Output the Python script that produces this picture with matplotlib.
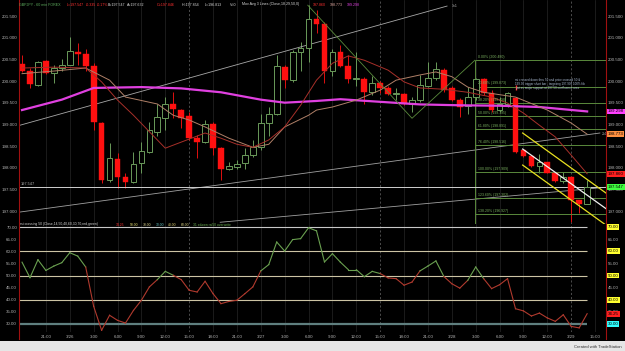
import matplotlib
matplotlib.use('Agg')
import matplotlib.pyplot as plt
from matplotlib.patches import Rectangle
from matplotlib.lines import Line2D

plt.rcParams['font.family'] = ['Liberation Sans', 'DejaVu Sans']

# GBPJPY 60 min bars
opens = [200.385, 200.238, 199.91, 200.46, 200.18, 200.29, 200.38, 200.68, 200.62, 200.35,
         199.04, 197.72, 198.19, 197.79, 197.66, 198.10, 198.37, 198.83, 199.14, 199.48,
         199.33, 199.19, 198.68, 198.60, 199.01, 198.45, 197.96, 198.02, 198.10, 198.29,
         198.48, 199.04, 199.25, 200.33, 200.02, 200.66, 200.77, 201.42, 201.31, 200.22,
         200.68, 200.35, 200.04, 200.04, 199.75, 199.95, 199.83, 199.70, 199.70, 199.47,
         199.56, 199.88, 200.08, 200.25, 199.83, 199.56, 199.42, 199.64, 200.04, 199.72,
         199.33, 199.48, 199.60, 198.40, 198.27, 198.05, 198.12, 197.87, 197.69, 197.79,
         197.25, 197.16]
highs = [200.60, 200.29, 200.46, 200.48, 200.37, 200.50, 201.02, 200.88, 200.73, 200.42,
         199.05, 198.56, 198.35, 197.88, 198.37, 198.60, 199.06, 199.48, 199.64, 199.75,
         199.35, 199.29, 198.75, 199.10, 199.05, 198.48, 198.14, 198.18, 198.45, 198.64,
         199.25, 199.41, 200.60, 200.37, 200.72, 200.91, 201.75, 201.64, 201.37, 200.75,
         200.83, 200.60, 200.68, 200.10, 200.12, 200.01, 199.88, 199.85, 199.73, 199.64,
         200.14, 200.45, 200.45, 200.29, 199.88, 199.60, 199.87, 200.06, 200.06, 199.79,
         199.64, 199.75, 199.62, 198.42, 198.30, 198.32, 198.14, 197.88, 197.91, 197.81,
         197.26, 197.72]
lows = [200.21, 199.85, 199.88, 200.16, 199.96, 200.22, 200.37, 200.37, 200.22, 198.87,
        197.64, 197.68, 197.54, 197.52, 197.64, 197.87, 198.33, 198.72, 198.87, 199.14,
        198.91, 198.65, 198.22, 198.58, 198.29, 197.72, 197.95, 197.98, 197.98, 198.25,
        198.41, 198.72, 199.22, 199.85, 199.98, 200.22, 200.45, 201.10, 199.95, 200.12,
        200.33, 199.95, 199.88, 199.48, 199.68, 199.73, 199.68, 199.56, 199.45, 199.29,
        199.52, 199.87, 200.02, 199.75, 199.55, 199.18, 199.25, 199.56, 199.68, 199.29,
        199.29, 199.41, 198.35, 198.25, 198.02, 197.87, 197.87, 197.68, 197.65, 196.75,
        196.95, 197.16]
closes = [200.238, 199.93, 200.43, 200.18, 200.31, 200.38, 200.69, 200.62, 200.35, 199.06,
          197.72, 198.22, 197.79, 197.66, 198.08, 198.39, 198.87, 199.16, 199.48, 199.35,
          199.14, 198.68, 198.60, 199.01, 198.45, 197.96, 198.05, 198.08, 198.29, 198.48,
          199.02, 199.25, 200.35, 200.02, 200.68, 200.77, 201.42, 201.31, 200.22, 200.68,
          200.35, 200.04, 200.06, 199.75, 199.96, 199.83, 199.70, 199.73, 199.47, 199.56,
          199.91, 200.08, 200.27, 199.79, 199.56, 199.41, 199.64, 200.04, 199.72, 199.33,
          199.48, 199.72, 198.37, 198.27, 198.05, 198.12, 197.88, 197.69, 197.79, 197.25,
          197.16, 197.547]

# moving averages (read at selected bars)
ma_fast_bars = [0, 4, 8, 10, 12, 14, 17, 18, 20, 23, 25, 27, 29, 31, 33, 35, 37, 39, 41, 43,
                46, 48, 50, 53, 56, 59, 61, 63, 65, 67, 69, 71]
ma_fast_vals = [200.30, 200.32, 200.30, 199.98, 199.56, 199.21, 198.64, 198.45, 198.59, 198.80,
                198.68, 198.54, 198.47, 198.64, 198.94, 199.44, 200.02, 200.41, 200.58, 200.48,
                200.25, 199.98, 199.84, 199.81, 199.74, 199.63, 199.49, 199.26, 198.98, 198.71,
                198.29, 197.86]
ma_mid_bars = [0, 4, 8, 11, 13, 17, 19, 21, 23, 26, 29, 31, 33, 36, 37, 39, 42, 45, 47, 50,
               52, 54, 56, 58, 62, 66, 69, 71]
ma_mid_vals = [200.17, 200.23, 200.30, 200.02, 199.63, 199.47, 199.21, 199.10, 198.94, 198.68,
               198.47, 198.54, 198.94, 199.21, 199.33, 199.40, 199.56, 199.79, 200.02, 200.14,
               200.21, 200.10, 199.86, 199.74, 199.63, 199.33, 199.03, 198.773]
ma_slow_bars = [0, 5, 9, 15, 20, 25, 30, 33, 37, 40, 45, 50, 55, 60, 65, 71]
ma_slow_vals = [199.33, 199.57, 199.84, 199.86, 199.83, 199.74, 199.57, 199.50, 199.54, 199.58,
                199.52, 199.46, 199.44, 199.43, 199.40, 199.298]

rsi = [55.5, 49.1, 56.5, 52.1, 53.9, 55.3, 59.4, 58.0, 53.5, 37.3,
       27.4, 33.6, 31.5, 30.4, 35.6, 39.8, 45.3, 48.3, 51.7, 50.1,
       48.3, 43.9, 43.2, 47.6, 42.5, 38.4, 39.3, 39.8, 42.5, 45.3,
       51.9, 54.5, 63.8, 60.1, 64.8, 65.2, 69.7, 68.4, 55.6, 59.0,
       55.5, 52.4, 52.4, 49.5, 51.7, 50.8, 49.0, 48.7, 46.0, 47.3,
       51.9, 53.9, 56.0, 49.6, 46.6, 44.8, 48.0, 53.5, 48.7, 44.6,
       46.2, 48.7, 36.3, 35.4, 33.3, 34.5, 32.5, 31.1, 33.8, 29.0,
       28.4, 34.25]

time_bars = list(range(3, 73, 3))
time_labels = ['21:00', '3/26', '3:00', '6:00', '9:00', '12:00', '15:00', '18:00', '21:00',
               '3/27', '3:00', '6:00', '9:00', '12:00', '15:00', '18:00', '21:00', '3/28',
               '3:00', '6:00', '9:00', '12:00', '3/29', '15:00']
session_bars = [21, 45, 69]

# drawings
line_1x1_x, line_1x1_y = [-0.25, 53.4], [198.98, 201.73]
line_2x1_x, line_2x1_y = [-0.5, 72.6], [196.97, 198.80]
line_low_x, line_low_y = [24.9, 73.5], [196.74, 197.55]
zigzag_x, zigzag_y = [35.9, 49.0, 56.9], [201.75, 199.14, 200.48]
chan_x = [62.9, 73.4]
chan_upper = [198.80, 197.41]
chan_mid = [198.43, 197.05]
chan_lower = [198.06, 196.67]
fib_start, fib_high, fib_low = 56.9, 200.480, 197.909
fib_pcts = [0.0, 23.6, 38.2, 50.0, 61.8, 76.4, 100.0, 123.6, 138.2]
last_price = 197.547
note_lines = ['rsi crossed down thru 50 and price crossed 50 &',
              '199.30 trigger short bar , targeting 197.909 100% fib',
              'just as major support at 197.50 confluence area']

W, H = 625, 351
GREEN_C = '#6a9a5a'
RED_C = '#ff1010'
GRAY_T = '#b4b4b4'
FS = 3.2
HFS = 2.6


def fx(px):
    return px / W


def fy(py):
    return 1 - py / H


fig = plt.figure(figsize=(6.25, 3.51), dpi=100, facecolor='black')
ax = fig.add_axes([fx(19), fy(224), 587 / W, 224 / H])
ax2 = fig.add_axes([fx(19), fy(332), 587 / W, 108 / H])
XMIN, XMAX = -0.38, 73.37
for a in (ax, ax2):
    a.set_facecolor('black')
    a.set_xlim(XMIN, XMAX)
    for s in a.spines.values():
        s.set_visible(False)
    for b in time_bars:
        if b in session_bars:
            a.axvline(b, color='#6a6a6a', lw=0.5, ls=(0, (3, 3)))
        else:
            a.axvline(b, color='#262626', lw=0.5)
ax.set_ylim(196.70, 201.87)
ax2.set_ylim(26.70, 71.24)

# candles
x = list(range(len(closes)))
up = [i for i in x if closes[i] >= opens[i]]
dn = [i for i in x if closes[i] < opens[i]]
ax.vlines(dn, [lows[i] for i in dn], [highs[i] for i in dn], color='#e01010', lw=0.7)
ax.bar(dn, [max(opens[i] - closes[i], 0.015) for i in dn], bottom=[closes[i] for i in dn],
       width=0.72, color=RED_C, edgecolor=RED_C, lw=0.3, zorder=3)
ax.vlines(up, [lows[i] for i in up], [opens[i] for i in up], color=GREEN_C, lw=0.7)
ax.vlines(up, [closes[i] for i in up], [highs[i] for i in up], color=GREEN_C, lw=0.7)
ax.bar(up, [max(closes[i] - opens[i], 0.015) for i in up], bottom=[opens[i] for i in up],
       width=0.72, facecolor='black', edgecolor=GREEN_C, lw=0.7, zorder=3)

# moving averages
ax.plot(ma_slow_bars, ma_slow_vals, color='#e040e0', lw=1.6, zorder=4)
ax.plot(ma_mid_bars, ma_mid_vals, color='#b08068', lw=0.7, zorder=4)
ax.plot(ma_fast_bars, ma_fast_vals, color='#a8302a', lw=0.7, zorder=4)

# trend lines
ax.plot(line_1x1_x, line_1x1_y, color='#a8a8a8', lw=0.6)
ax.plot(line_2x1_x, line_2x1_y, color='#a0a0a0', lw=0.6)
ax.plot(line_low_x, line_low_y, color='#a0a0a0', lw=0.6)
ax.text(54.0, 201.72, '1x1', color=GRAY_T, fontsize=HFS, va='center')
ax.text(72.8, 198.78, '2x1', color=GRAY_T, fontsize=HFS, va='center')
ax.plot(zigzag_x, zigzag_y, color='#5a8a3c', lw=0.6, zorder=5)

# fibonacci
fib_prices = [fib_high - p / 100 * (fib_high - fib_low) for p in fib_pcts]
ax.hlines(fib_prices, fib_start, XMAX, color='#5a8a3c', lw=0.7, zorder=2)
ax.vlines(fib_start, 196.70, fib_high, color='#5a8a3c', lw=0.7, zorder=2)
for p, v in zip(fib_pcts, fib_prices):
    ax.text(fib_start + 0.35, v + 0.025, f'{p:.2f}% ({v:.3f})', color='#7ab060',
            fontsize=2.5, va='bottom', zorder=6)

# channel
ax.plot(chan_x, chan_upper, color='#e8e020', lw=0.9, zorder=5)
ax.plot(chan_x, chan_lower, color='#e8e020', lw=0.9, zorder=5)
ax.plot(chan_x, chan_mid, color='#f0f0f0', lw=0.9, zorder=5)

# last price line
ax.axhline(last_price, color='#d0d0d0', lw=0.7, zorder=2)
ax.text(-0.2, last_price + 0.03, f'{last_price:.3f}', color=GRAY_T, fontsize=2.8, va='bottom')
ax.vlines(62, 199.80, 199.90, color='#ff3030', lw=1.0, zorder=6)
for k, t in enumerate(note_lines):
    ax.text(61.9, 200.06 - k * 0.085, t, color='#a8b8d0', fontsize=2.2, va='top', zorder=6)

# price axis labels
ax.set_xticks([])
price_ticks = [197.0, 197.5, 198.0, 198.5, 199.0, 199.5, 200.0, 200.5, 201.0, 201.5]
ax.set_yticks(price_ticks)
ax.set_yticklabels([f'{v:.3f}' for v in price_ticks])
ax.tick_params(axis='y', labelsize=FS, colors=GRAY_T, length=0, pad=1.4,
               labelleft=True, labelright=True)
ytr = ax.get_yaxis_transform()
for v, c in [(199.298, '#ff40ff'), (198.773, '#ff9040'), (197.860, '#ff2020'), (197.547, '#40ff40')]:
    ax.text(1.003, v, f'{v:.3f}', transform=ytr, fontsize=FS, color='black', va='center',
            ha='left', bbox=dict(boxstyle='square,pad=0.2', fc=c, ec='none'), zorder=10)

# rsi panel
for lvl, c, w in [(70, '#c8c8c8', 0.8), (60, '#ccc4a4', 0.8), (50, '#ccc4a4', 0.8),
                  (40, '#ccc4a4', 0.8), (30, '#5f7f7f', 1.6)]:
    ax2.hlines(lvl, XMIN, len(rsi) - 1, color=c, lw=w)
for i in range(len(rsi) - 1):
    c = '#6aa050' if (rsi[i] + rsi[i + 1]) / 2 >= 50 else '#b03a2e'
    ax2.plot([i, i + 1], [rsi[i], rsi[i + 1]], color=c, lw=0.8)
rsi_ticks = [30, 35, 40, 45, 50, 55, 60, 65, 70]
ax2.set_yticks(rsi_ticks)
ax2.set_yticklabels([f'{v:.2f}' for v in rsi_ticks])
ax2.tick_params(axis='y', labelsize=FS, colors=GRAY_T, length=0, pad=1.4,
                labelleft=True, labelright=True)
ax2.set_xticks(time_bars)
ax2.set_xticklabels(time_labels)
ax2.tick_params(axis='x', labelsize=FS, colors=GRAY_T, length=0, pad=2.0)
ytr2 = ax2.get_yaxis_transform()
for v, c in [(70, '#ffff30'), (60, '#ffff30'), (50, '#ffff30'), (40, '#ffff30'),
             (rsi[-1], '#ff2020'), (30, '#30ffff')]:
    ax2.text(1.003, v, f'{v:.2f}', transform=ytr2, fontsize=FS, color='black', va='center',
             ha='left', bbox=dict(boxstyle='square,pad=0.2', fc=c, ec='none'), zorder=10)

# header texts
hdr = [(19, 'GBPJPY - 60 min FOREX', '#5faf5f'), (67, 'L=197.547', '#ff3030'),
       (86, '-0.335', '#ff3030'), (97, '-0.17%', '#ff3030'), (108, 'B=197.547', '#d8d8d8'),
       (127, 'A=197.632', '#d8d8d8'), (157, 'O=197.846', '#ff3030'), (182, 'H=197.854', '#d8d8d8'),
       (205, 'L=196.813', '#d8d8d8'), (230, 'V=0', '#d8d8d8'),
       (242, 'Mov Avg 3 Lines (Close,18,29,50,0)', '#d8d8d8'), (313, '197.860', '#ff3030'),
       (330, '198.773', '#e0a8a0'), (347, '199.298', '#e040e0')]
for px, t, c in hdr:
    fig.text(fx(px), fy(4.5), t, color=c, fontsize=HFS, va='center', ha='left')
rhdr = [(20, 'rsi crossing 50 (Close,14,50,40,60,30,70,red,green)', '#d8d8d8'),
        (116, '34.25', '#ff3030'), (130, '50.00', '#e8e070'), (143, '70.00', '#e0d890'),
        (156, '30.00', '#60c0c0'), (168, '40.00', '#e0d070'), (181, '60.00', '#d8d080'),
        (193, '31 xdown rsi50 overwrite', '#6ab050')]
for px, t, c in rhdr:
    fig.text(fx(px), fy(224.5), t, color=c, fontsize=2.4, va='center', ha='left')

# borders and footer
for px in (19, 606):
    fig.add_artist(Line2D([fx(px), fx(px)], [fy(0), fy(339)], color='#a01010', lw=0.8))
fig.add_artist(Rectangle((0, 0), 1, 10 / H, transform=fig.transFigure, fc='#e6e6e6', ec='none'))
fig.text(fx(622), fy(347.5), 'Created with TradeStation', color='#303030', fontsize=3,
         ha='right', va='center')

fig.savefig('out.png', dpi=100, facecolor='black')
